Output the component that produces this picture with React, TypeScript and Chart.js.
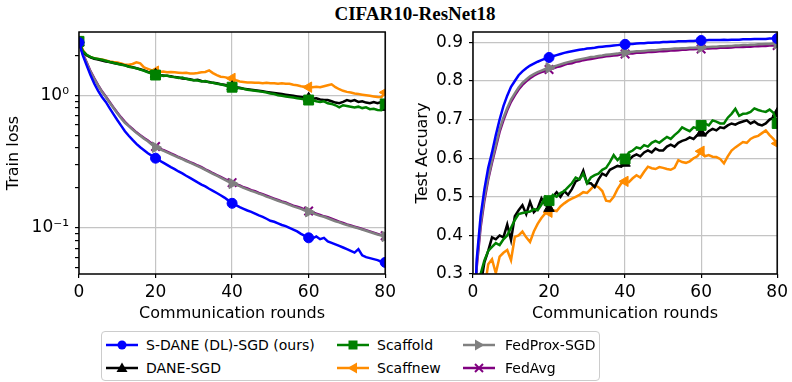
import React, { useEffect, useRef } from 'react';
import { Chart, registerables } from 'chart.js';

Chart.register(...registerables);

// ---------------- data ----------------
const rounds = [
  0, 1, 2, 3, 4, 5, 6, 7, 8, 9, 10, 11, 12, 13, 14, 15, 16, 17, 18, 19, 20,
  21, 22, 23, 24, 25, 26, 27, 28, 29, 30, 31, 32, 33, 34, 35, 36, 37, 38, 39, 40,
  41, 42, 43, 44, 45, 46, 47, 48, 49, 50, 51, 52, 53, 54, 55, 56, 57, 58, 59, 60,
  61, 62, 63, 64, 65, 66, 67, 68, 69, 70, 71, 72, 73, 74, 75, 76, 77, 78, 79, 80,
];

const seriesNames = ['S-DANE (DL)-SGD (ours)', 'DANE-SGD', 'Scaffold', 'Scaffnew', 'FedProx-SGD', 'FedAvg'];

const xTickValues = [0, 20, 40, 60, 80];
const lossTickValues = [0.05, 0.06, 0.07, 0.08, 0.09, 0.1, 0.2, 0.3, 0.4, 0.5, 0.6, 0.7, 0.8, 0.9, 1, 2];
const lossTickLabels: Record<string, string> = { '0.1': '10⁻¹', '1': '10⁰' };
const accTickValues = [0.3, 0.4, 0.5, 0.6, 0.7, 0.8, 0.9];

// Train loss
const lossSDANE = [
  2.5, 2.0, 1.68, 1.42, 1.22, 1.08, 0.97, 0.89, 0.8, 0.72, 0.65, 0.59, 0.535, 0.495, 0.46, 0.43, 0.405, 0.385, 0.365, 0.35, 0.335,
  0.322, 0.31, 0.298, 0.287, 0.277, 0.266, 0.257, 0.247, 0.238, 0.229, 0.22, 0.212, 0.205, 0.197, 0.19, 0.183, 0.176, 0.169, 0.161, 0.153,
  0.148, 0.143, 0.139, 0.135, 0.132, 0.128, 0.124, 0.121, 0.117, 0.113, 0.111, 0.108, 0.105, 0.103, 0.1, 0.097, 0.094, 0.09, 0.087, 0.084,
  0.083, 0.086, 0.082, 0.084, 0.079, 0.077, 0.075, 0.073, 0.071, 0.069, 0.067, 0.065, 0.069, 0.062, 0.06, 0.059, 0.058, 0.057, 0.0555, 0.0548,
];
const lossDANE = [
  2.5, 2.12, 2.0, 1.93, 1.88, 1.86, 1.83, 1.8, 1.78, 1.75, 1.73, 1.71, 1.68, 1.65, 1.63, 1.6, 1.57, 1.54, 1.5, 1.47, 1.44,
  1.42, 1.41, 1.4, 1.39, 1.37, 1.36, 1.34, 1.33, 1.32, 1.3, 1.31, 1.28, 1.27, 1.26, 1.24, 1.23, 1.21, 1.2, 1.18, 1.16,
  1.15, 1.14, 1.12, 1.11, 1.1, 1.09, 1.08, 1.07, 1.06, 1.05, 1.04, 1.03, 1.02, 1.01, 1.0, 0.99, 0.98, 0.97, 0.96, 0.95,
  0.94, 0.95, 0.93, 0.92, 0.92, 0.9, 0.88, 0.87, 0.89, 0.92, 0.9, 0.92, 0.89, 0.9, 0.88, 0.87, 0.89, 0.87, 0.89, 0.81,
];
const lossScaffold = [
  2.55, 2.15, 2.02, 1.95, 1.9, 1.88, 1.85, 1.82, 1.78, 1.76, 1.73, 1.7, 1.68, 1.64, 1.62, 1.6, 1.56, 1.53, 1.49, 1.46, 1.42,
  1.43, 1.4, 1.41, 1.38, 1.37, 1.35, 1.36, 1.33, 1.31, 1.3, 1.29, 1.27, 1.28, 1.25, 1.24, 1.22, 1.21, 1.19, 1.17, 1.15,
  1.14, 1.13, 1.12, 1.1, 1.09, 1.08, 1.07, 1.06, 1.05, 1.03, 1.02, 1.0, 0.99, 0.98, 0.97, 0.96, 0.95, 0.94, 0.93, 0.92,
  0.92, 0.9, 0.89, 0.9, 0.87, 0.86, 0.84, 0.81, 0.84, 0.83, 0.82, 0.81, 0.82, 0.8, 0.81, 0.785, 0.79, 0.775, 0.77, 0.86,
];
const lossScaffnew = [
  2.55, 2.2, 2.0, 1.94, 1.9, 1.88, 1.86, 1.83, 1.8, 1.78, 1.77, 1.74, 1.7, 1.7, 1.72, 1.77, 1.74, 1.62, 1.58, 1.54, 1.52,
  1.5, 1.51, 1.49, 1.5, 1.49, 1.48, 1.47, 1.48, 1.46, 1.46, 1.47, 1.49, 1.5, 1.54, 1.47, 1.42, 1.38, 1.37, 1.35, 1.34,
  1.3, 1.27, 1.26, 1.25, 1.25, 1.24, 1.24, 1.23, 1.24, 1.23, 1.23, 1.22, 1.23, 1.22, 1.22, 1.2, 1.19, 1.17, 1.16, 1.15,
  1.15, 1.16, 1.15, 1.17, 1.19, 1.21, 1.15, 1.11, 1.08, 1.06, 1.05, 1.03, 1.02, 1.01, 1.0, 0.99, 0.98, 0.97, 0.965, 1.05,
];
const lossFedProx = [
  2.5, 2.05, 1.75, 1.5, 1.32, 1.18, 1.06, 0.97, 0.88, 0.8, 0.73, 0.67, 0.62, 0.585, 0.55, 0.52, 0.495, 0.47, 0.45, 0.425, 0.405,
  0.393, 0.382, 0.371, 0.36, 0.349, 0.339, 0.329, 0.319, 0.31, 0.301, 0.292, 0.283, 0.273, 0.264, 0.255, 0.247, 0.239, 0.231, 0.223, 0.216,
  0.211, 0.206, 0.2, 0.195, 0.19, 0.186, 0.181, 0.177, 0.172, 0.168, 0.164, 0.16, 0.156, 0.153, 0.149, 0.145, 0.142, 0.139, 0.135, 0.132,
  0.129, 0.126, 0.123, 0.121, 0.118, 0.115, 0.112, 0.11, 0.107, 0.105, 0.103, 0.101, 0.099, 0.097, 0.095, 0.093, 0.091, 0.089, 0.0875, 0.086,
];
const lossFedAvg = [
  2.5, 2.06, 1.77, 1.52, 1.34, 1.19, 1.07, 0.98, 0.89, 0.81, 0.74, 0.68, 0.63, 0.59, 0.556, 0.525, 0.5, 0.476, 0.455, 0.43, 0.41,
  0.398, 0.386, 0.376, 0.364, 0.354, 0.342, 0.333, 0.323, 0.313, 0.305, 0.295, 0.287, 0.276, 0.268, 0.258, 0.25, 0.242, 0.234, 0.226, 0.219,
  0.213, 0.209, 0.202, 0.198, 0.192, 0.189, 0.183, 0.179, 0.175, 0.17, 0.166, 0.162, 0.158, 0.155, 0.151, 0.147, 0.144, 0.141, 0.137, 0.134,
  0.131, 0.128, 0.125, 0.122, 0.12, 0.117, 0.114, 0.111, 0.109, 0.106, 0.104, 0.102, 0.1, 0.098, 0.096, 0.094, 0.092, 0.09, 0.088, 0.087,
];

// Test accuracy
const accSDANE = [
  0.1, 0.34, 0.45, 0.52, 0.575, 0.615, 0.66, 0.7, 0.735, 0.762, 0.785, 0.8, 0.815, 0.825, 0.833, 0.84, 0.845, 0.85, 0.854, 0.858, 0.861,
  0.864, 0.867, 0.87, 0.873, 0.875, 0.877, 0.879, 0.881, 0.882, 0.884, 0.885, 0.886, 0.888, 0.889, 0.89, 0.891, 0.892, 0.893, 0.894, 0.895,
  0.896, 0.896, 0.897, 0.898, 0.898, 0.899, 0.899, 0.9, 0.9, 0.901, 0.901, 0.902, 0.902, 0.903, 0.903, 0.903, 0.904, 0.904, 0.905, 0.905,
  0.905, 0.906, 0.906, 0.906, 0.906, 0.907, 0.906, 0.907, 0.907, 0.907, 0.908, 0.908, 0.908, 0.909, 0.909, 0.909, 0.909, 0.91, 0.91, 0.91,
];
const accDANE = [
  0.1, 0.2, 0.27, 0.33, 0.36, 0.395, 0.39, 0.4, 0.395, 0.428, 0.388, 0.45, 0.465, 0.478, 0.455, 0.487, 0.46, 0.47, 0.496, 0.48, 0.47,
  0.5, 0.512, 0.5, 0.515, 0.505, 0.52, 0.54, 0.545, 0.568, 0.535, 0.535, 0.525, 0.545, 0.56, 0.555, 0.57, 0.575, 0.58, 0.578, 0.587,
  0.595, 0.605, 0.61, 0.605, 0.615, 0.62, 0.615, 0.625, 0.62, 0.62, 0.63, 0.635, 0.63, 0.64, 0.645, 0.648, 0.654, 0.65, 0.66, 0.665,
  0.66, 0.67, 0.676, 0.672, 0.68, 0.678, 0.685, 0.69, 0.687, 0.692, 0.695, 0.698, 0.69, 0.695, 0.688, 0.685, 0.69, 0.7, 0.705, 0.716,
];
const accScaffold = [
  0.1, 0.22, 0.3, 0.335, 0.36, 0.37, 0.38, 0.375, 0.39, 0.4, 0.42, 0.44, 0.455, 0.458, 0.46, 0.462, 0.468, 0.465, 0.48, 0.5, 0.49,
  0.505, 0.5, 0.51, 0.515, 0.525, 0.535, 0.55, 0.545, 0.56, 0.535, 0.55, 0.556, 0.56, 0.57, 0.575, 0.59, 0.608, 0.595, 0.605, 0.598,
  0.615, 0.62, 0.628, 0.625, 0.634, 0.63, 0.64, 0.645, 0.64, 0.648, 0.655, 0.65, 0.66, 0.668, 0.68, 0.675, 0.67, 0.68, 0.678, 0.685,
  0.69, 0.685, 0.698, 0.695, 0.69, 0.69, 0.705, 0.715, 0.728, 0.71, 0.715, 0.716, 0.72, 0.729, 0.725, 0.722, 0.72, 0.726, 0.718, 0.69,
];
const accScaffnew = [
  0.1, 0.15, 0.2, 0.26, 0.325, 0.338, 0.302, 0.345, 0.355, 0.362, 0.336, 0.396, 0.4, 0.41, 0.395, 0.383, 0.41, 0.43, 0.445, 0.457, 0.46,
  0.465, 0.463, 0.475, 0.483, 0.49, 0.495, 0.5, 0.505, 0.512, 0.51, 0.52, 0.53, 0.525, 0.515, 0.49, 0.488, 0.5, 0.52, 0.535, 0.54,
  0.538, 0.548, 0.556, 0.55, 0.565, 0.578, 0.574, 0.572, 0.577, 0.575, 0.572, 0.57, 0.575, 0.595, 0.59, 0.588, 0.592, 0.6, 0.605, 0.618,
  0.605, 0.608, 0.604, 0.603, 0.598, 0.587, 0.605, 0.62, 0.628, 0.635, 0.642, 0.64, 0.65, 0.655, 0.658, 0.665, 0.672, 0.66, 0.65, 0.638,
];
const accFedProx = [
  0.1, 0.33, 0.43, 0.5, 0.55, 0.595, 0.635, 0.675, 0.705, 0.73, 0.752, 0.768, 0.783, 0.795, 0.804, 0.812, 0.818, 0.823, 0.827, 0.831, 0.834,
  0.837, 0.84, 0.843, 0.846, 0.849, 0.851, 0.854, 0.856, 0.858, 0.86, 0.862, 0.863, 0.865, 0.866, 0.868, 0.869, 0.87, 0.871, 0.873, 0.874,
  0.875, 0.876, 0.877, 0.877, 0.878, 0.879, 0.88, 0.88, 0.881, 0.882, 0.882, 0.883, 0.884, 0.884, 0.885, 0.885, 0.886, 0.886, 0.887, 0.887,
  0.888, 0.888, 0.889, 0.889, 0.89, 0.89, 0.891, 0.891, 0.892, 0.892, 0.893, 0.893, 0.894, 0.894, 0.895, 0.895, 0.896, 0.896, 0.897, 0.897,
];
const accFedAvg = [
  0.1, 0.32, 0.42, 0.49, 0.545, 0.588, 0.628, 0.668, 0.698, 0.724, 0.746, 0.763, 0.778, 0.79, 0.799, 0.807, 0.814, 0.819, 0.823, 0.826, 0.83,
  0.832, 0.836, 0.838, 0.842, 0.845, 0.846, 0.85, 0.851, 0.854, 0.856, 0.857, 0.859, 0.861, 0.862, 0.864, 0.865, 0.866, 0.867, 0.869, 0.87,
  0.871, 0.871, 0.873, 0.873, 0.874, 0.875, 0.875, 0.876, 0.877, 0.877, 0.878, 0.879, 0.879, 0.88, 0.881, 0.881, 0.882, 0.882, 0.883, 0.883,
  0.884, 0.884, 0.885, 0.885, 0.886, 0.886, 0.886, 0.887, 0.888, 0.888, 0.888, 0.889, 0.889, 0.89, 0.89, 0.891, 0.891, 0.892, 0.892, 0.892,
];

// ---------------- styles ----------------
const COLORS = ['#0000ff', '#000000', '#008000', '#ff8c00', '#808080', '#800080'];
const POINT_STYLES = ['circle', 'triangle', 'rect', 'triangle', 'triangle', 'crossRot'];
const ROTATIONS = [0, 0, 0, -90, 90, 0];
const RADII = [5, 6, 7, 6, 6, 6];
const ORDERS = [1, 3, 2, 4, 5, 6];
const MARK_EVERY = 20;
const GRID = '#c4c4c4';
const FONT = 'DejaVu Sans';
const tickFont = { family: FONT, size: 17 };
const titleFont = { family: FONT, size: 16 };

const framePlugin = {
  id: 'frame',
  afterDatasetsDraw(chart: any) {
    const { ctx, chartArea: a } = chart;
    ctx.save();
    ctx.strokeStyle = '#000';
    ctx.lineWidth = 1.5;
    ctx.strokeRect(a.left, a.top, a.right - a.left, a.bottom - a.top);
    ctx.restore();
  },
};

function buildDatasets(list: number[][]) {
  return list.map((vals, k) => ({
    label: seriesNames[k],
    data: vals.map((v, i) => ({ x: rounds[i], y: v })),
    borderColor: COLORS[k],
    backgroundColor: COLORS[k],
    borderWidth: 2.5,
    pointStyle: POINT_STYLES[k],
    pointRotation: ROTATIONS[k],
    pointRadius: (c: any) => (rounds[c.dataIndex] % MARK_EVERY === 0 ? RADII[k] : 0),
    pointHoverRadius: 0,
    pointBorderWidth: k === 5 ? 2 : 1,
    pointBackgroundColor: COLORS[k],
    pointBorderColor: COLORS[k],
    tension: 0,
    order: ORDERS[k],
  }));
}

function xScale() {
  return {
    type: 'linear',
    min: 0,
    max: 80,
    afterBuildTicks: (s: any) => {
      s.ticks = xTickValues.map((v) => ({ value: v }));
    },
    ticks: { font: tickFont, color: '#000', padding: 4, maxRotation: 0, autoSkip: false, callback: (v: any) => String(v) },
    grid: { color: GRID, lineWidth: 1.2, tickLength: 4, tickColor: '#000', tickWidth: 1.2 },
    border: { display: false },
    title: { display: true, text: 'Communication rounds', font: titleFont, color: '#000', padding: { top: 0, bottom: 4 } },
    afterFit: (s: any) => {
      s.height = 53;
    },
  };
}

function baseOptions(padding: any, y: any) {
  return {
    animation: false,
    responsive: false,
    maintainAspectRatio: false,
    events: [],
    layout: { padding },
    plugins: { legend: { display: false }, tooltip: { enabled: false }, title: { display: false } },
    scales: { x: xScale(), y },
  };
}

function LegendHandle({ k }: { k: number }) {
  const c = COLORS[k];
  let marker: any = null;
  if (k === 0) marker = <circle cx={16} cy={7} r={4.5} fill={c} />;
  if (k === 1) marker = <polygon points="16,1.5 21.5,11 10.5,11" fill={c} />;
  if (k === 2) marker = <rect x={11.5} y={2.5} width={9} height={9} fill={c} />;
  if (k === 3) marker = <polygon points="10.5,7 20,1.5 20,12.5" fill={c} />;
  if (k === 4) marker = <polygon points="21.5,7 12,1.5 12,12.5" fill={c} />;
  if (k === 5)
    marker = (
      <g stroke={c} strokeWidth={2}>
        <line x1={12} y1={3} x2={20} y2={11} />
        <line x1={12} y1={11} x2={20} y2={3} />
      </g>
    );
  return (
    <svg width={32} height={14} style={{ display: 'block' }}>
      <line x1={0} y1={7} x2={32} y2={7} stroke={c} strokeWidth={2.5} />
      {marker}
    </svg>
  );
}

const legendSlots = [
  { handle: 4, text: 44, row: 0 },
  { handle: 4, text: 44, row: 1 },
  { handle: 235, text: 275, row: 0 },
  { handle: 235, text: 275, row: 1 },
  { handle: 361, text: 403, row: 0 },
  { handle: 361, text: 403, row: 1 },
];

export default function App() {
  const leftRef = useRef<HTMLCanvasElement>(null);
  const rightRef = useRef<HTMLCanvasElement>(null);

  useEffect(() => {
    const left = new Chart(leftRef.current as HTMLCanvasElement, {
      type: 'line',
      data: { datasets: buildDatasets([lossSDANE, lossDANE, lossScaffold, lossScaffnew, lossFedProx, lossFedAvg]) as any },
      options: baseOptions(
        { left: 0, right: 13, top: 32, bottom: 0 },
        {
          type: 'logarithmic',
          min: 0.0448,
          max: 3.0,
          afterBuildTicks: (s: any) => {
            s.ticks = lossTickValues.map((v) => ({ value: v, major: String(v) in lossTickLabels }));
          },
          ticks: {
            font: tickFont,
            color: '#000',
            padding: 6,
            autoSkip: false,
            callback: (v: any) => lossTickLabels[String(v)] ?? '',
          },
          grid: {
            color: (c: any) => (c.tick && lossTickLabels[String(c.tick.value)] ? GRID : 'rgba(0,0,0,0)'),
            lineWidth: 1.2,
            tickLength: 4,
            tickColor: '#000',
            tickWidth: 1.2,
          },
          border: { display: false },
          title: { display: true, text: 'Train loss', font: titleFont, color: '#000', padding: { top: 4, bottom: 0 } },
          afterFit: (s: any) => {
            s.width = 79;
          },
        }
      ) as any,
      plugins: [framePlugin],
    });

    const right = new Chart(rightRef.current as HTMLCanvasElement, {
      type: 'line',
      data: { datasets: buildDatasets([accSDANE, accDANE, accScaffold, accScaffnew, accFedProx, accFedAvg]) as any },
      options: baseOptions(
        { left: 13, right: 11, top: 32, bottom: 0 },
        {
          type: 'linear',
          min: 0.3,
          max: 0.927,
          afterBuildTicks: (s: any) => {
            s.ticks = accTickValues.map((v) => ({ value: v }));
          },
          ticks: { font: tickFont, color: '#000', padding: 6, autoSkip: false, callback: (v: any) => Number(v).toFixed(1) },
          grid: { color: GRID, lineWidth: 1.2, tickLength: 4, tickColor: '#000', tickWidth: 1.2 },
          border: { display: false },
          title: { display: true, text: 'Test Accuary', font: titleFont, color: '#000', padding: { top: 4, bottom: 0 } },
          afterFit: (s: any) => {
            s.width = 64;
          },
        }
      ) as any,
      plugins: [framePlugin],
    });

    return () => {
      left.destroy();
      right.destroy();
    };
  }, []);

  return (
    <div style={{ position: 'absolute', left: 0, top: 0, width: 792, height: 382, background: '#fff', overflow: 'hidden' }}>
      <div
        style={{
          position: 'absolute',
          left: 415,
          top: 3,
          transform: 'translateX(-50%)',
          fontFamily: '"Liberation Serif", serif',
          fontWeight: 'bold',
          fontSize: 19,
          lineHeight: '22px',
          whiteSpace: 'nowrap',
          color: '#000',
        }}
      >
        CIFAR10-ResNet18
      </div>
      <canvas ref={leftRef} width={400} height={327} style={{ position: 'absolute', left: 0, top: 0, width: 400, height: 327 }} />
      <canvas ref={rightRef} width={396} height={327} style={{ position: 'absolute', left: 396, top: 0, width: 396, height: 327 }} />
      <div
        style={{
          position: 'absolute',
          left: 101,
          top: 331,
          width: 497,
          height: 48,
          border: '1px solid #cccccc',
          borderRadius: 4,
          background: '#fff',
          fontFamily: FONT,
          fontSize: 14,
          color: '#000',
        }}
      >
        {seriesNames.map((name, k) => {
          const slot = legendSlots[k];
          const cy = slot.row === 0 ? 13 : 36;
          return (
            <React.Fragment key={name}>
              <div style={{ position: 'absolute', left: slot.handle, top: cy - 7 }}>
                <LegendHandle k={k} />
              </div>
              <div style={{ position: 'absolute', left: slot.text, top: cy - 10, lineHeight: '20px', whiteSpace: 'nowrap' }}>
                {name}
              </div>
            </React.Fragment>
          );
        })}
      </div>
    </div>
  );
}
